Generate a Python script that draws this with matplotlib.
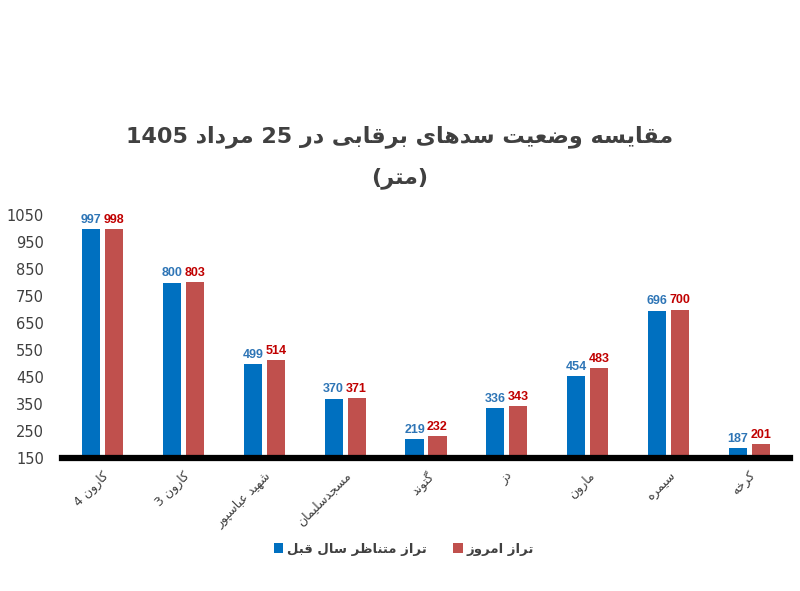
import matplotlib
matplotlib.use("Agg")
import matplotlib.pyplot as plt
import numpy as np

# داده‌ها
dams = ["کارون 4", "کارون 3", "شهید عباسپور", "مسجدسلیمان", "گتوند",
        "دز", "مارون", "سیمره", "کرخه"]
last_year = [997, 800, 499, 370, 219, 336, 454, 696, 187]
today = [998, 803, 514, 371, 232, 343, 483, 700, 201]
yticks = [150, 250, 350, 450, 550, 650, 750, 850, 950, 1050]
title_text = "مقایسه وضعیت سدهای برقابی در 25 مرداد 1405"
unit_text = "(متر)"
legend_labels = ["تراز متناظر سال قبل", "تراز امروز"]

# شکل‌های حروف: (تنها، پایانی، آغازی، میانی)
FORMS = {
    'ا': ('\uFE8D', '\uFE8E', None, None),
    'ب': ('\uFE8F', '\uFE90', '\uFE91', '\uFE92'),
    'پ': ('\uFB56', '\uFB57', '\uFB58', '\uFB59'),
    'ت': ('\uFE95', '\uFE96', '\uFE97', '\uFE98'),
    'ج': ('\uFE9D', '\uFE9E', '\uFE9F', '\uFEA0'),
    'خ': ('\uFEA5', '\uFEA6', '\uFEA7', '\uFEA8'),
    'د': ('\uFEA9', '\uFEAA', None, None),
    'ر': ('\uFEAD', '\uFEAE', None, None),
    'ز': ('\uFEAF', '\uFEB0', None, None),
    'س': ('\uFEB1', '\uFEB2', '\uFEB3', '\uFEB4'),
    'ش': ('\uFEB5', '\uFEB6', '\uFEB7', '\uFEB8'),
    'ض': ('\uFEBD', '\uFEBE', '\uFEBF', '\uFEC0'),
    'ظ': ('\uFEC5', '\uFEC6', '\uFEC7', '\uFEC8'),
    'ع': ('\uFEC9', '\uFECA', '\uFECB', '\uFECC'),
    'ق': ('\uFED5', '\uFED6', '\uFED7', '\uFED8'),
    'ک': ('\uFB8E', '\uFB8F', '\uFB90', '\uFB91'),
    'گ': ('\uFB92', '\uFB93', '\uFB94', '\uFB95'),
    'ل': ('\uFEDD', '\uFEDE', '\uFEDF', '\uFEE0'),
    'م': ('\uFEE1', '\uFEE2', '\uFEE3', '\uFEE4'),
    'ن': ('\uFEE5', '\uFEE6', '\uFEE7', '\uFEE8'),
    'ه': ('\uFEE9', '\uFEEA', '\uFEEB', '\uFEEC'),
    'و': ('\uFEED', '\uFEEE', None, None),
    'ی': ('\uFBFC', '\uFBFD', '\uFBFE', '\uFBFF'),
}


def fa(text):
    """شکل‌دهی ساده حروف فارسی و مرتب‌سازی راست به چپ"""
    out = []
    n = len(text)
    for i, ch in enumerate(text):
        if ch not in FORMS:
            out.append(ch)
            continue
        prev = text[i - 1] if i > 0 else None
        nxt = text[i + 1] if i < n - 1 else None
        jp = prev in FORMS and FORMS[prev][2] is not None
        jn = FORMS[ch][2] is not None and nxt in FORMS
        if jp and jn:
            out.append(FORMS[ch][3])
        elif jp:
            out.append(FORMS[ch][1])
        elif jn:
            out.append(FORMS[ch][2])
        else:
            out.append(FORMS[ch][0])
    # برعکس کردن، با حفظ ترتیب اعداد
    rev = out[::-1]
    res = []
    i = 0
    while i < len(rev):
        if rev[i].isdigit():
            j = i
            while j < len(rev) and rev[j].isdigit():
                j += 1
            res.extend(rev[i:j][::-1])
            i = j
        else:
            res.append({'(': ')', ')': '('}.get(rev[i], rev[i]))
            i += 1
    return "".join(res)


plt.rcParams['font.family'] = ['DejaVu Sans']

blue = "#0070C0"
red = "#C0504D"
num_font = ['Liberation Sans', 'DejaVu Sans']

fig = plt.figure(figsize=(8, 5.91), dpi=100)
ax = fig.add_axes([0.0775, 0.225, 0.91, 0.411])

x = np.arange(len(dams))
w = 0.223
ax.bar(x - 0.142, np.array(last_year) - 150, w, bottom=150, color=blue, label=fa(legend_labels[0]))
ax.bar(x + 0.142, np.array(today) - 150, w, bottom=150, color=red, label=fa(legend_labels[1]))

for xi, v in zip(x, last_year):
    ax.text(xi - 0.142, v + 12, str(v), ha='center', va='bottom', fontsize=9,
            fontweight='bold', color="#2E75B6", family=num_font)
for xi, v in zip(x, today):
    ax.text(xi + 0.142, v + 12, str(v), ha='center', va='bottom', fontsize=9,
            fontweight='bold', color="#C00000", family=num_font)

ax.set_xlim(-0.5, 8.5)
ax.set_ylim(150, 1050)
ax.set_yticks(yticks)
ax.set_yticklabels([str(t) for t in yticks], fontsize=10.5, color="#3F3F3F")
ax.tick_params(axis='y', length=0, pad=13)
ax.set_xticks(x)
ax.set_xticklabels([fa(d) for d in dams], rotation=45, ha='right', rotation_mode='anchor',
                   fontsize=9, color="#404040")
ax.tick_params(axis='x', length=0, pad=8)

for s in ['top', 'right', 'left']:
    ax.spines[s].set_visible(False)
ax.spines['bottom'].set_linewidth(4.5)
ax.spines['bottom'].set_color('black')

fig.text(0.5, 0.768, fa(title_text), ha='center', va='center', fontsize=16,
         fontweight='bold', color="#404040")
fig.text(0.5, 0.698, fa(unit_text), ha='center', va='center', fontsize=16,
         fontweight='bold', color="#404040")

fig.legend(loc='center', bbox_to_anchor=(0.505, 0.071), ncol=2, frameon=False,
           handlelength=0.7, handleheight=0.7, handletextpad=0.3, columnspacing=2.0,
           prop={'size': 9.5, 'weight': 'bold'}, labelcolor="#404040")

fig.savefig("out.png", dpi=100, facecolor='white')
